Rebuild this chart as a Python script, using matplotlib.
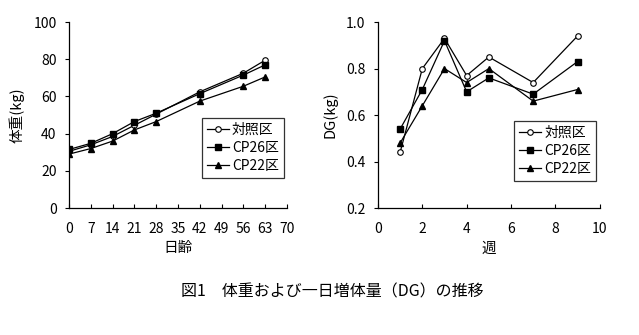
import matplotlib
matplotlib.use("Agg")
import matplotlib.pyplot as plt

plt.rcParams['font.family'] = ['Noto Sans CJK JP', 'DejaVu Sans']

days = [0, 7, 14, 21, 28, 42, 56, 63]
bw_control = [30.5, 34.0, 38.5, 44.5, 50.5, 62.5, 72.5, 79.5]
bw_cp26 = [31.5, 34.8, 40.0, 46.5, 51.0, 61.5, 71.5, 77.0]
bw_cp22 = [29.0, 32.0, 36.0, 42.0, 46.5, 57.5, 65.5, 70.5]

weeks = [1, 2, 3, 4, 5, 7, 9]
dg_control = [0.44, 0.80, 0.93, 0.77, 0.85, 0.74, 0.94]
dg_cp26 = [0.54, 0.71, 0.92, 0.70, 0.76, 0.69, 0.83]
dg_cp22 = [0.48, 0.64, 0.80, 0.74, 0.80, 0.66, 0.71]

labels = ['対照区', 'CP26区', 'CP22区']
left_xticks = [0, 7, 14, 21, 28, 35, 42, 49, 56, 63, 70]

fig = plt.figure(figsize=(6.39, 3.35), dpi=100)
ax1 = fig.add_axes([0.108, 0.379, 0.341, 0.555])
ax2 = fig.add_axes([0.5915, 0.379, 0.347, 0.555])

styles = [dict(marker='o', mfc='white', mec='black', ms=4, mew=0.8),
          dict(marker='s', mfc='black', mec='black', ms=4.5),
          dict(marker='^', mfc='black', mec='black', ms=5)]

for ys, lab, st in zip([bw_control, bw_cp26, bw_cp22], labels, styles):
    ax1.plot(days, ys, color='black', lw=0.9, label=lab, **st)
for ys, lab, st in zip([dg_control, dg_cp26, dg_cp22], labels, styles):
    ax2.plot(weeks, ys, color='black', lw=0.9, label=lab, **st)

ax1.set_xlim(0, 70)
ax1.set_ylim(0, 100)
ax1.set_xticks(left_xticks)
ax1.set_yticks([0, 20, 40, 60, 80, 100])
ax1.set_xlabel('日齢', fontsize=10.5, labelpad=4)
ax1.set_ylabel('体重(kg)', fontsize=10.5, labelpad=6)

ax2.set_xlim(0, 10)
ax2.set_ylim(0.2, 1.0)
ax2.set_xticks([0, 2, 4, 6, 8, 10])
ax2.set_yticks([0.2, 0.4, 0.6, 0.8, 1.0])
ax2.set_yticklabels(['0.2', '0.4', '0.6', '0.8', '1.0'])
ax2.set_xlabel('週', fontsize=10.5, labelpad=4)
ax2.set_ylabel('DG(kg)', fontsize=10.5, labelpad=6)

for ax in (ax1, ax2):
    for s in ('top', 'right'):
        ax.spines[s].set_visible(False)
    for s in ('left', 'bottom'):
        ax.spines[s].set_linewidth(0.9)
    ax.tick_params(axis='x', direction='in', length=3, width=0.8, labelsize=10, pad=10)
    ax.tick_params(axis='y', direction='out', length=3, width=0.8, labelsize=10, pad=6)

leg_kw = dict(frameon=True, fancybox=False, edgecolor='black', fontsize=10,
              handlelength=1.6, handletextpad=0.2, borderpad=0.35, labelspacing=0.3,
              borderaxespad=0)
l1 = ax1.legend(loc='upper left', bbox_to_anchor=(0.61, 0.485), **leg_kw)
l1.get_frame().set_linewidth(0.9)
l2 = ax2.legend(loc='upper left', bbox_to_anchor=(0.615, 0.47), **leg_kw)
l2.get_frame().set_linewidth(0.9)

fig.text(0.52, 0.128, '図1　体重および一日増体量（DG）の推移', ha='center', va='center', fontsize=11.5)

fig.savefig('out.png', dpi=100)
